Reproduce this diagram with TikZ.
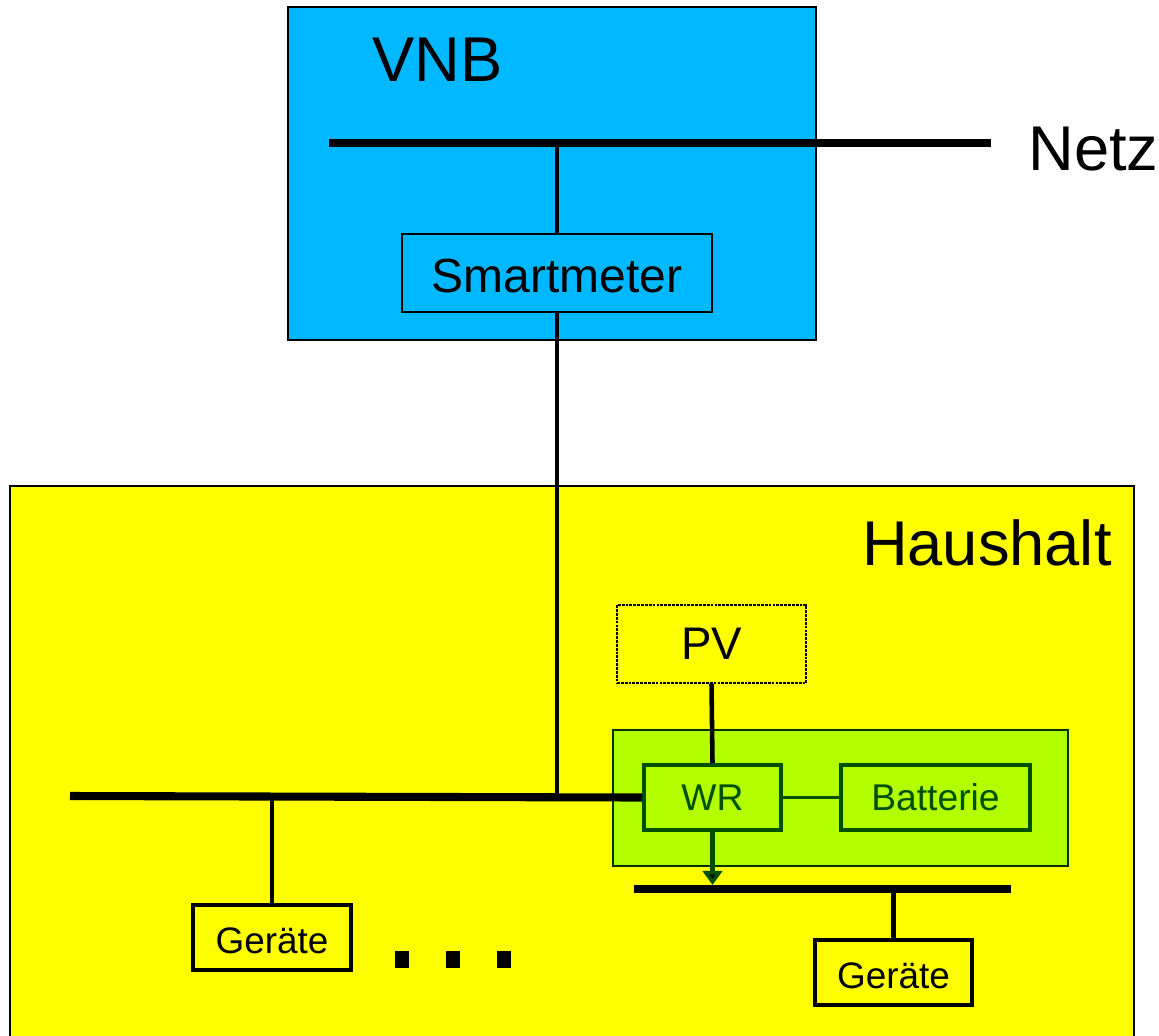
\documentclass[tikz,border=0pt]{standalone}
\usepackage{fontspec}
\setmainfont{Liberation Sans}
\usetikzlibrary{arrows.meta}
\definecolor{vnbblue}{RGB}{0,184,255}
\definecolor{hhyellow}{RGB}{255,255,0}
\definecolor{wrgreen}{RGB}{179,255,0}
\definecolor{dkgreen}{RGB}{0,80,0}
\tikzset{
  frame/.style={draw=black, line width=0.8pt, inner sep=0pt},
  blackbox/.style={draw=black, line width=2.3pt, fill=hhyellow, inner sep=0pt, font=\fontsize{21}{24}\selectfont, text height=0.62cm, text depth=0cm},
  greenbox/.style={draw=dkgreen, line width=2.3pt, fill=wrgreen, inner sep=0pt, text=dkgreen, font=\fontsize{21.2}{24}\selectfont},
  bus/.style={line width=4.6pt},
  wire/.style={line width=2.6pt},
  bigtext/.style={font=\fontsize{36}{40}\selectfont, inner sep=0pt},
}
\begin{document}
\begin{tikzpicture}[x=0.02cm, y=-0.02cm]
\useasboundingbox (0,0) rectangle (1159,1035);
\fill[white] (0,0) rectangle (1159,1035);
% VNB area
\node[frame, fill=vnbblue, minimum width=10.56cm, minimum height=6.66cm] (vnb) at (552,173.5) {};
\node[bigtext, anchor=base west] (vnbt) at (372,81) {VNB};
\coordinate (netzL) at (329,143);
\coordinate (netzR) at (991,143);
\draw[bus] (netzL) -- (netzR);
\node[bigtext, anchor=base west] (netz) at (1028,170) {Netz};
\node[frame, fill=vnbblue, minimum width=6.2cm, minimum height=1.56cm, font=\fontsize{27.3}{30}\selectfont, text depth=0pt, text height=0.78cm] (smart) at (557,273) {Smartmeter};
% Haushalt area
\node[frame, fill=hhyellow, minimum width=22.48cm, minimum height=11.08cm] (hh) at (572,763) {};
\node[bigtext, anchor=base east] (hht) at (1112,565) {Haushalt};
\node[draw=black, line width=0.8pt, dash pattern=on 1.6pt off 0.6pt, fill=hhyellow, minimum width=3.78cm, minimum height=1.56cm, inner sep=0pt, font=\fontsize{26}{30}\selectfont] (pv) at (711.5,644) {PV};
\node[draw=dkgreen!60!black, line width=0.8pt, fill=wrgreen, minimum width=9.1cm, minimum height=2.72cm, inner sep=0pt] (grp) at (840.5,798) {};
\node[greenbox, minimum width=2.74cm, minimum height=1.3cm] (wr) at (712.5,797.5) {WR};
\node[greenbox, minimum width=3.78cm, minimum height=1.3cm] (bat) at (935.5,797.5) {Batterie};
\node[blackbox, minimum width=3.16cm, minimum height=1.3cm] (gl) at (272,937.5) {Geräte};
\node[blackbox, minimum width=3.14cm, minimum height=1.3cm] (gr) at (893.5,972.5) {Geräte};
% buses
\coordinate (busL) at (70,796);
\coordinate (lbL) at (634,889);
\coordinate (lbR) at (1011,889);
\draw[bus] (busL) -- (wr.west);
\draw[bus] (lbL) -- (lbR);
% connectors
\draw[wire] (smart.north |- netzL) -- (smart.north);
\draw[wire] (smart.south) -- (smart.south |- busL);
\draw[wire] (gl.north |- busL) -- (gl.north);
\draw[wire] (pv.south) -- (wr.north);
\draw[line width=2.2pt, draw=dkgreen] (wr.east) -- (bat.west);
\draw[line width=2.3pt, draw=dkgreen, -{Triangle[width=11pt,length=8pt,fill=black!80!dkgreen]}] (wr.south) -- ([yshift=2.3pt]wr.south |- lbL);
\draw[wire] (gr.north |- lbL) -- (gr.north);
% dots
\fill (395,951) rectangle (409,968);
\fill (446,951) rectangle (460,968);
\fill (497,951) rectangle (511,968);
\end{tikzpicture}
\end{document}
